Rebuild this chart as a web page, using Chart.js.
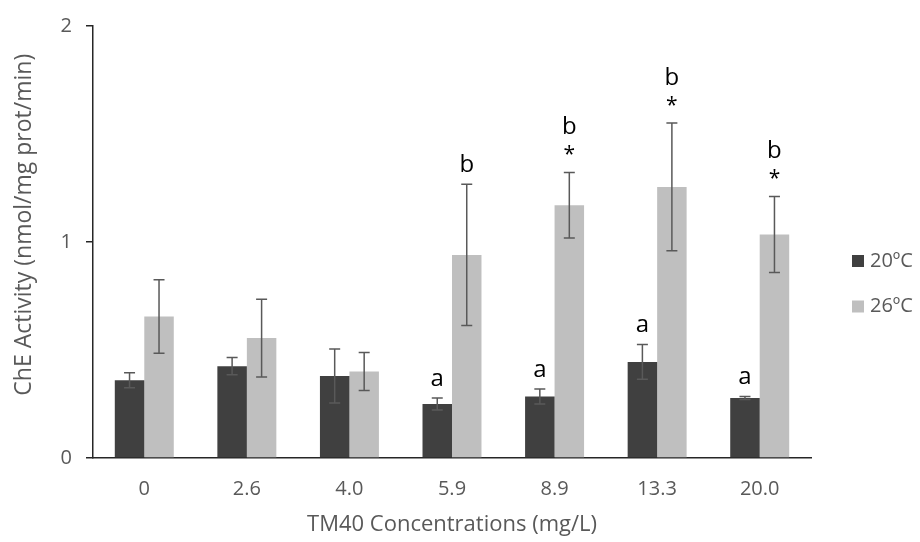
<!DOCTYPE html>
<html>
<head>
<meta charset="utf-8">
<script src="https://cdn.jsdelivr.net/npm/chart.js@4"></script>
<style>
  html, body { margin: 0; padding: 0; background: #fff; }
  #wrap { width: 920px; height: 542px; }
</style>
</head>
<body>
<div id="wrap"><canvas id="cheChart" width="920" height="542"></canvas></div>
<script>
const concentrations = ["0", "2.6", "4.0", "5.9", "8.9", "13.3", "20.0"];
const activity20 = [0.36, 0.425, 0.38, 0.25, 0.285, 0.445, 0.278];
const sd20 = [0.035, 0.04, 0.125, 0.028, 0.035, 0.08, 0.007];
const activity26 = [0.655, 0.555, 0.40, 0.94, 1.17, 1.255, 1.035];
const sd26 = [0.17, 0.18, 0.088, 0.327, 0.152, 0.296, 0.176];
const marks20 = [[], [], [], ["a"], ["a"], ["a"], ["a"]];
const marks26 = [[], [], [], ["b"], ["b", "*"], ["b", "*"], ["b", "*"]];
const seriesLabels = ["20ºC", "26ºC"];
const yTicks = [0, 1, 2];
const yTitle = "ChE Activity (nmol/mg prot/min)";

const FONT = "'Open Sans', 'DejaVu Sans', sans-serif";
const AXIS = "#262626";
const GREY_TEXT = "#595959";

// error bars drawn over the bars
const errorBars = {
  id: "errorBars",
  afterDatasetsDraw(chart) {
    const ctx = chart.ctx;
    const y = chart.scales.y;
    const errs = [sd20, sd26];
    ctx.save();
    ctx.strokeStyle = "#595959";
    ctx.lineWidth = 1.5;
    chart.data.datasets.forEach((ds, di) => {
      chart.getDatasetMeta(di).data.forEach((bar, i) => {
        const v = ds.data[i], e = errs[di][i];
        const top = y.getPixelForValue(v + e);
        const bot = y.getPixelForValue(v - e);
        ctx.beginPath();
        ctx.moveTo(bar.x, top); ctx.lineTo(bar.x, bot);
        ctx.moveTo(bar.x - 5.5, top); ctx.lineTo(bar.x + 5.5, top);
        ctx.moveTo(bar.x - 5.5, bot); ctx.lineTo(bar.x + 5.5, bot);
        ctx.stroke();
      });
    });
    ctx.restore();
  }
};

// significance letters above the error bars
const sigMarks = {
  id: "sigMarks",
  afterDatasetsDraw(chart) {
    const ctx = chart.ctx;
    const y = chart.scales.y;
    const errs = [sd20, sd26];
    const marks = [marks20, marks26];
    ctx.save();
    ctx.fillStyle = "#000";
    ctx.textAlign = "center";
    ctx.textBaseline = "middle";
    chart.data.datasets.forEach((ds, di) => {
      chart.getDatasetMeta(di).data.forEach((bar, i) => {
        const lines = marks[di][i];
        let yy = y.getPixelForValue(ds.data[i] + errs[di][i]) - 19;
        for (let k = lines.length - 1; k >= 0; k--) {
          const t = lines[k];
          ctx.font = (t === "*" ? "21px " : "24px ") + FONT;
          ctx.fillText(t, bar.x, t === "*" ? yy + 2 : yy);
          yy -= 26;
        }
      });
    });
    ctx.restore();
  }
};

// y title, placed a little above the middle of the axis like the original
const yAxisTitle = {
  id: "yAxisTitle",
  afterDraw(chart) {
    const ctx = chart.ctx;
    const a = chart.chartArea;
    ctx.save();
    ctx.translate(24, a.top + (a.bottom - a.top) * 0.46);
    ctx.rotate(-Math.PI / 2);
    ctx.font = "23px " + FONT;
    ctx.fillStyle = GREY_TEXT;
    ctx.textAlign = "center";
    ctx.textBaseline = "middle";
    ctx.fillText(yTitle, 0, 0);
    ctx.restore();
  }
};

// legend at the right, as in the original
const sideLegend = {
  id: "sideLegend",
  afterDraw(chart) {
    const ctx = chart.ctx;
    const x0 = chart.chartArea.right + 41;
    const rows = [261, 306.5];
    ctx.save();
    ctx.font = "20px " + FONT;
    ctx.textBaseline = "middle";
    ctx.textAlign = "left";
    chart.data.datasets.forEach((ds, i) => {
      ctx.fillStyle = ds.backgroundColor;
      ctx.fillRect(x0, rows[i] - 6, 12, 12);
      ctx.fillStyle = GREY_TEXT;
      ctx.fillText(ds.label, x0 + 18, rows[i]);
    });
    ctx.restore();
  }
};

new Chart(document.getElementById("cheChart").getContext("2d"), {
  type: "bar",
  data: {
    labels: concentrations,
    datasets: [
      {
        label: seriesLabels[0],
        data: activity20,
        backgroundColor: "#404040",
        categoryPercentage: 0.575,
        barPercentage: 1.0
      },
      {
        label: seriesLabels[1],
        data: activity26,
        backgroundColor: "#bfbfbf",
        categoryPercentage: 0.575,
        barPercentage: 1.0
      }
    ]
  },
  options: {
    responsive: false,
    animation: false,
    layout: { padding: { left: 0, right: 109, top: 23, bottom: 0 } },
    plugins: {
      legend: { display: false },
      tooltip: { enabled: false }
    },
    scales: {
      x: {
        grid: { display: false, drawTicks: false },
        border: { display: true, color: AXIS, width: 1.5 },
        ticks: { color: GREY_TEXT, font: { family: FONT, size: 20 }, padding: 19 },
        title: {
          display: true,
          text: "TM40 Concentrations (mg/L)",
          color: GREY_TEXT,
          font: { family: FONT, size: 22 },
          padding: { top: 0, bottom: 4 }
        },
        afterFit: scale => { scale.height = 84; }
      },
      y: {
        min: 0,
        max: 2,
        afterBuildTicks: scale => { scale.ticks = yTicks.map(v => ({ value: v })); },
        grid: { drawOnChartArea: false, drawTicks: true, tickLength: 7, color: AXIS, lineWidth: 1.5 },
        border: { display: true, color: AXIS, width: 1.5 },
        ticks: { color: GREY_TEXT, font: { family: FONT, size: 20 }, padding: 14 },
        title: { display: false },
        afterFit: scale => { scale.width = 93; }
      }
    }
  },
  plugins: [errorBars, sigMarks, yAxisTitle, sideLegend]
});
</script>
</body>
</html>
